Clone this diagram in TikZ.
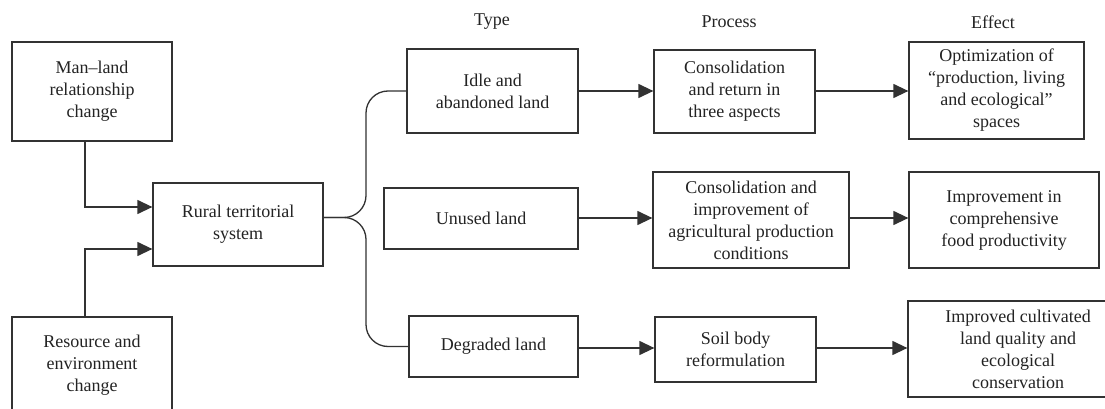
\documentclass[tikz,border=0pt]{standalone}
\usepackage{fontspec}
\setmainfont{Liberation Serif}
\usetikzlibrary{arrows.meta}
\definecolor{ln}{RGB}{50,50,50}
\definecolor{tx}{RGB}{35,35,35}
\begin{document}
\begin{tikzpicture}[x=1pt,y=-1pt,
  box/.style={draw=ln,line width=1.3pt,align=center,inner sep=0pt,
    font=\fontsize{18}{22}\selectfont,text=tx},
  hdr/.style={font=\fontsize{18}{22}\selectfont,text=tx},
  arr/.style={draw=ln,line width=1.3pt,-{Triangle[length=15pt,width=14pt]}},
  con/.style={draw=ln,line width=1.3pt}]
\useasboundingbox (0,0) rectangle (1105,409);
\clip (0,0) rectangle (1105,409);
\fill[white] (0,0) rectangle (1105,409);
% headers
\node[hdr] (hT) at (492,22) {Type};
\node[hdr] (hP) at (729,22) {Process};
\node[hdr] (hE) at (993,22) {Effect};
% left
\node[box,minimum width=160pt,minimum height=99pt] (man) at (92,91.5) {Man–land\\relationship\\change};
\node[box,minimum width=160pt,minimum height=97pt] (res) at (92,365.5) {Resource and\\environment\\change};
\node[box,minimum width=170pt,minimum height=83pt] (rural) at (238,224.5) {Rural territorial\\system};
% type
\node[box,minimum width=171pt,minimum height=84pt] (idle) at (492.5,91) {Idle and\\abandoned land};
\node[box,minimum width=194pt,minimum height=61pt] (unused) at (481,218.5) {Unused land};
\node[box,minimum width=169pt,minimum height=61pt] (degr) at (493.5,346.5) {Degraded land};
% process
\node[box,minimum width=161pt,minimum height=83pt] (p1) at (734.5,91.5) {Consolidation\\and return in\\three aspects};
\node[box,minimum width=196pt,minimum height=96pt] (p2) at (751,220) {Consolidation and\\improvement of\\agricultural production\\conditions};
\node[box,minimum width=161pt,minimum height=65pt] (p3) at (735.5,349.5) {Soil body\\reformulation};
% effect
\node[box,minimum width=175pt,minimum height=97pt] (e1) at (996.5,90.5) {Optimization of\\“production, living\\and ecological”\\spaces};
\node[box,minimum width=190pt,minimum height=96pt] (e2) at (1004,220) {Improvement in\\comprehensive\\food productivity};
\node[box,minimum width=220pt,minimum height=96pt] (e3) at (1018,349) {Improved cultivated\\land quality and\\ecological\\conservation};
% inputs
\draw[arr] ([xshift=-7pt]man.south) |- ([yshift=17.5pt]rural.west);
\draw[arr] ([xshift=-7pt]res.north) |- ([yshift=-24.5pt]rural.west);
% brace
\coordinate (cusp) at ([yshift=7pt]rural.east);
\coordinate (bx) at (366,0);
\draw[con,rounded corners=22pt] (cusp) -| (bx |- idle.west) -- (idle.west);
\draw[con,rounded corners=22pt] (cusp) -| (bx |- degr.west) -- (degr.west);
% rows
\draw[arr] (idle.east) -- (idle.east -| p1.west);
\draw[arr] ([yshift=0.5pt]p1.east) -- ([yshift=0.5pt]p1.east -| e1.west);
\draw[arr] ([yshift=0.5pt]unused.east) -- ([yshift=0.5pt]unused.east -| p2.west);
\draw[arr] ([yshift=2pt]p2.east) -- ([yshift=2pt]p2.east -| e2.west);
\draw[arr] ([yshift=-1.5pt]degr.east) -- ([yshift=-1.5pt]degr.east -| p3.west);
\draw[arr] ([yshift=1.5pt]p3.east) -- ([yshift=1.5pt]p3.east -| e3.west);
\end{tikzpicture}
\end{document}
